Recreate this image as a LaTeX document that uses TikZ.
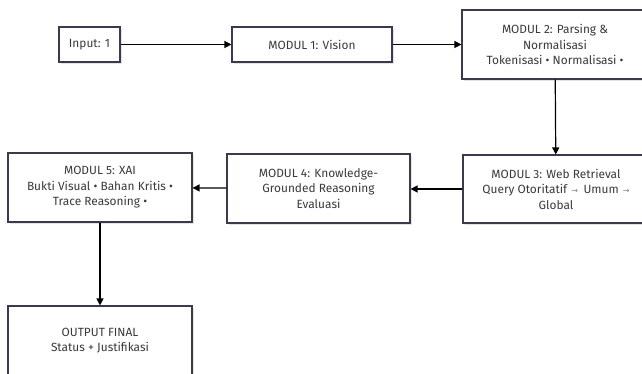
\documentclass[tikz,border=0pt]{standalone}
\usepackage{fontspec}
\setmainfont{Fira Sans}
\newfontfamily\symfont{DejaVu Sans}
\usetikzlibrary{arrows.meta,shadows}
\definecolor{boxline}{HTML}{3A3A4C}
\definecolor{txt}{HTML}{3A3A3A}
\definecolor{shadowc}{HTML}{E4E4E4}
\tikzset{
  box/.style={draw=boxline, line width=1.1pt, fill=white, rectangle, inner sep=2pt,
    align=center, text=txt, font=\fontsize{11.9}{15.5}\selectfont,
    drop shadow={shadow xshift=2pt, shadow yshift=-2pt, fill=shadowc, opacity=1}},
  conn/.style={draw=black, line width=1.2pt, -{Triangle[length=7pt,width=7pt]}}
}
\newcommand{\arr}{\hspace{0.35em}{\color{gray}\symfont\fontsize{8}{8}\selectfont →}\hspace{0.2em}}
\begin{document}
\begin{tikzpicture}[x=1pt,y=-1pt]
\useasboundingbox (0,0) rectangle (642,374);
\clip (0,0) rectangle (642,374);
\node[box, minimum width=61pt, minimum height=35pt] (in) at (89.5,44.5) {Input: 1};
\node[box, minimum width=160pt, minimum height=35pt] (m1) at (312,44.5) {MODUL 1: Vision};
\node[box, minimum width=186pt, minimum height=69pt] (m2) at (555,44.5) {MODUL 2: Parsing \&\\Normalisasi\\Tokenisasi • Normalisasi •};
\node[box, minimum width=186pt, minimum height=68pt] (m3) at (556,189) {MODUL 3: Web Retrieval\\Query Otoritatif\arr{} Umum\arr\\Global};
\node[box, minimum width=183pt, minimum height=69pt] (m4) at (318.5,188.5) {MODUL 4: Knowledge-\\Grounded Reasoning\\Evaluasi};
\node[box, minimum width=184pt, minimum height=69pt] (m5) at (100,187.5) {MODUL 5: XAI\\Bukti Visual • Bahan Kritis •\\Trace Reasoning •};
\node[box, minimum width=184pt, minimum height=69pt] (out) at (100,340.5) {OUTPUT FINAL\\Status + Justifikasi};
\draw[conn] (in) -- (m1);
\draw[conn] (m1) -- (m2);
\draw[conn] (m2) -- (m3);
\draw[conn] (m3.west |- 0,189) -- (m4.east |- 0,189);
\draw[conn] (m4) -- (m5);
\draw[conn] (m5) -- (out);
\end{tikzpicture}
\end{document}
